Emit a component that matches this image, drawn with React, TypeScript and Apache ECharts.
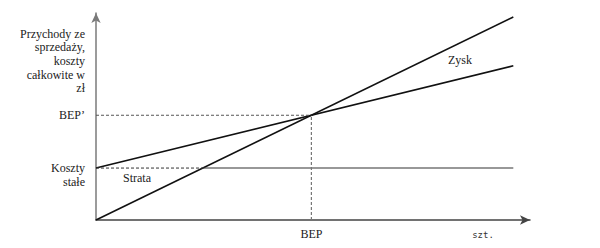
import React, { useEffect, useRef } from "react";
import * as echarts from "echarts";

// Data (units: quantity on x, value in zł on y)
const quantities = [0, 100];
const revenue = [0, 100];
const totalCost = [25.6, 76];
const fixedCost = 25.6;
const xMax = 104;
const yMax = 102;

const yTitle = ["Przychody ze", "sprzedaży,", "koszty", "całkowite w", "zł"];
const fixedLabel = ["Koszty", "stałe"];
const bepYLabel = "BEP’";
const bepXLabel = "BEP";
const unitLabel = "szt.";
const lossLabel = "Strata";
const profitLabel = "Zysk";

const SERIF = "'Liberation Serif', 'DejaVu Serif', serif";

export default function App() {
  const ref = useRef<HTMLDivElement>(null);
  useEffect(() => {
    document.body.style.margin = "0";
    if (!ref.current) return;
    const chart = echarts.init(ref.current, undefined, { renderer: "svg" });

    const priceSlope = (revenue[1] - revenue[0]) / (quantities[1] - quantities[0]);
    const costSlope = (totalCost[1] - totalCost[0]) / (quantities[1] - quantities[0]);
    const bepQ = (totalCost[0] - revenue[0]) / (priceSlope - costSlope);
    const bepV = revenue[0] + priceSlope * bepQ;
    const lossEndQ = (fixedCost - revenue[0]) / priceSlope;

    const black = "#111";
    chart.setOption({
      animation: false,
      textStyle: { fontFamily: SERIF },
      grid: { left: 96, right: 70, top: 13, bottom: 28 },
      xAxis: {
        type: "value",
        min: 0,
        max: xMax,
        axisLine: {
          show: true,
          symbol: ["none", "arrow"],
          symbolSize: [7, 10],
          lineStyle: { color: "#444", width: 1.5 },
        },
        axisTick: { show: false },
        axisLabel: { show: false },
        splitLine: { show: false },
      },
      yAxis: {
        type: "value",
        min: 0,
        max: yMax,
        axisLine: {
          show: true,
          symbol: ["none", "arrow"],
          symbolSize: [7, 10],
          lineStyle: { color: "#7a7a7a", width: 1.5 },
        },
        axisTick: { show: false },
        axisLabel: { show: false },
        splitLine: { show: false },
      },
      series: [
        {
          name: "Przychody",
          type: "line",
          showSymbol: false,
          data: quantities.map((q, i) => [q, revenue[i]]),
          lineStyle: { color: black, width: 1.6 },
        },
        {
          name: "Koszty całkowite",
          type: "line",
          showSymbol: false,
          data: quantities.map((q, i) => [q, totalCost[i]]),
          lineStyle: { color: black, width: 1.6 },
        },
        {
          name: "Koszty stałe (strata)",
          type: "line",
          showSymbol: false,
          data: [
            [quantities[0], fixedCost],
            [lossEndQ, fixedCost],
          ],
          lineStyle: { color: "#333", width: 1, type: [3, 2] },
        },
        {
          name: "Koszty stałe",
          type: "line",
          showSymbol: false,
          data: [
            [lossEndQ, fixedCost],
            [quantities[1], fixedCost],
          ],
          lineStyle: { color: "#333", width: 1.1 },
        },
        {
          name: "BEP poziomo",
          type: "line",
          showSymbol: false,
          data: [
            [0, bepV],
            [bepQ, bepV],
          ],
          lineStyle: { color: "#555", width: 1, type: [3, 2] },
        },
        {
          name: "BEP pionowo",
          type: "line",
          showSymbol: false,
          data: [
            [bepQ, 0],
            [bepQ, bepV],
          ],
          lineStyle: { color: "#777", width: 1.2, type: [3, 2] },
        },
      ],
    });

    const pBep = chart.convertToPixel({ gridIndex: 0 }, [bepQ, bepV]) as number[];
    const pFixed = chart.convertToPixel({ gridIndex: 0 }, [0, fixedCost]) as number[];
    const pOrigin = chart.convertToPixel({ gridIndex: 0 }, [0, 0]) as number[];

    const txt = (text: string, x: number, y: number, align: string, extra: any = {}) => ({
      type: "text",
      x,
      y,
      silent: true,
      style: {
        text,
        fill: "#222",
        font: "12px " + SERIF,
        align,
        verticalAlign: "middle",
        ...extra,
      },
    });

    chart.setOption({
      graphic: [
        txt(yTitle.join("\n"), 85, 61, "right", { lineHeight: 13.6 }),
        txt(bepYLabel, 85, pBep[1], "right"),
        txt(fixedLabel.join("\n"), 85, pFixed[1] + 7, "right", { lineHeight: 14 }),
        txt(bepXLabel, pBep[0], pOrigin[1] + 14, "center"),
        txt(unitLabel, 483, 235, "center", {
          font: "9px 'DejaVu Sans Mono', 'Liberation Mono', monospace",
          fill: "#333",
        }),
        txt(lossLabel, 137, 178, "center"),
        txt(profitLabel, 460, 60, "center"),
      ],
    });

    return () => chart.dispose();
  }, []);
  return <div ref={ref} style={{ width: 600, height: 248 }} />;
}
